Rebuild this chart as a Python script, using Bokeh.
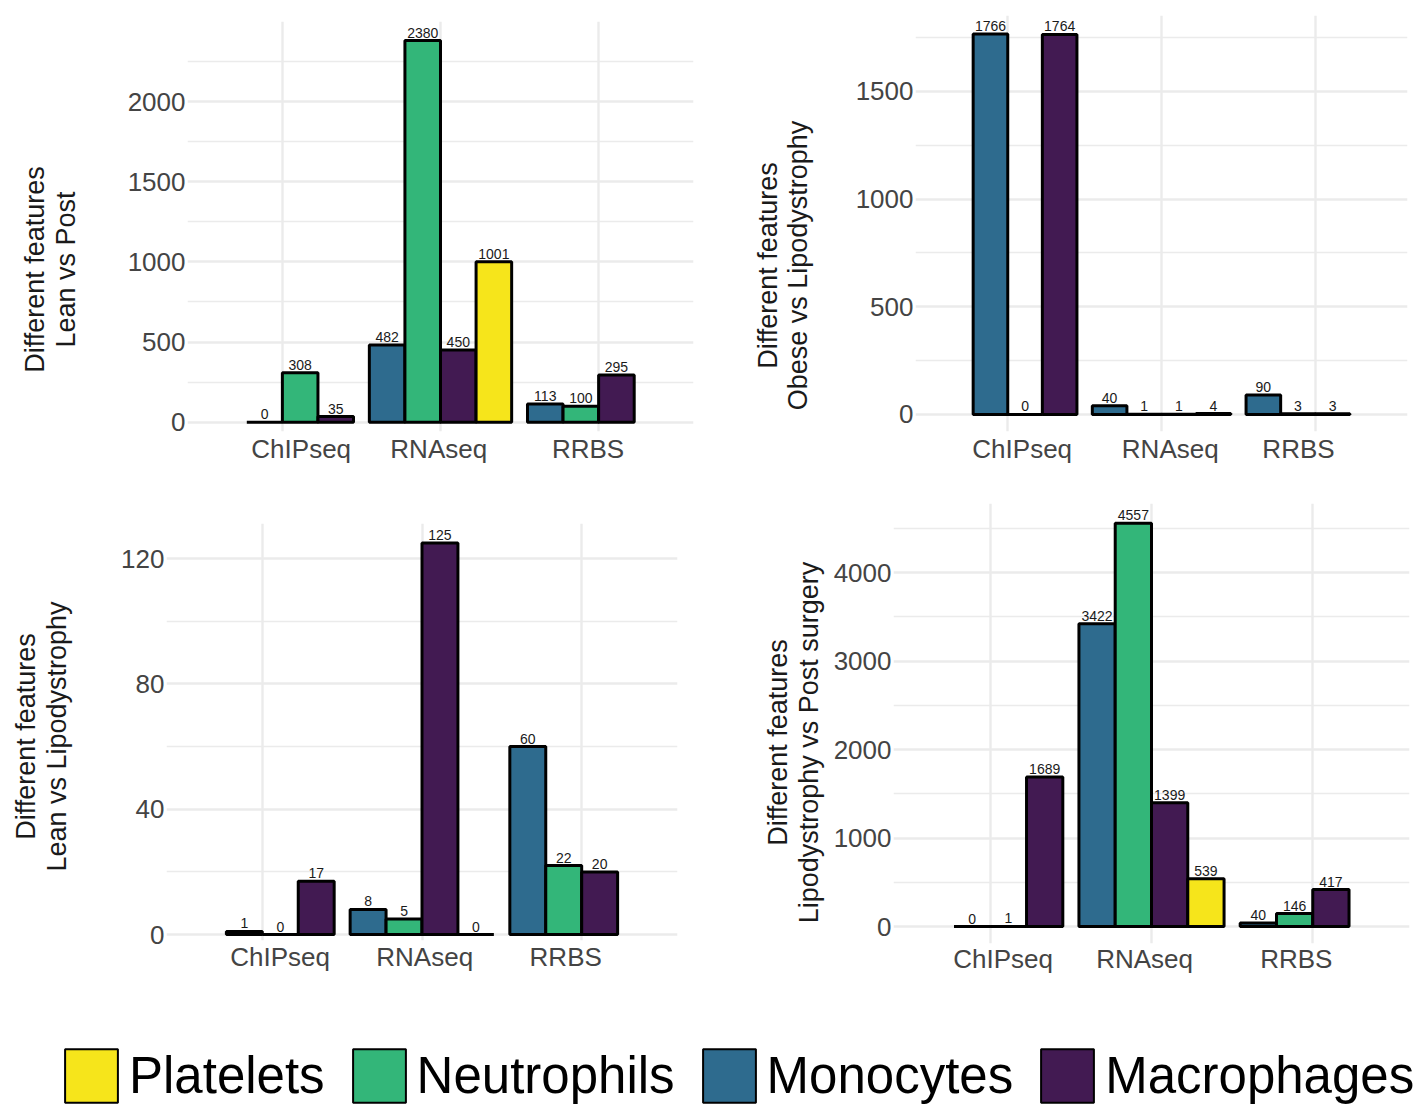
import numpy as np
from bokeh.plotting import figure
from bokeh.models import Range1d, FixedTicker, ColumnDataSource, CustomJSTickFormatter
from bokeh.layouts import column, row
from bokeh.embed import file_html
from bokeh.resources import INLINE
from bokeh.core.properties import value

# ---------------- data ----------------
assays = ["ChIPseq", "RNAseq", "RRBS"]
cell_types = ["Monocytes", "Neutrophils", "Macrophages", "Platelets"]
legend_order = ["Platelets", "Neutrophils", "Monocytes", "Macrophages"]

# Lean vs Post
lp_monocytes = [0, 482, 113]
lp_neutrophils = [308, 2380, 100]
lp_macrophages = [35, 450, 295]
lp_platelets = [None, 1001, None]

# Obese vs Lipodystrophy
ol_monocytes = [1766, 40, 90]
ol_neutrophils = [0, 1, 3]
ol_macrophages = [1764, 1, 3]
ol_platelets = [None, 4, None]

# Lean vs Lipodystrophy
ll_monocytes = [1, 8, 60]
ll_neutrophils = [0, 5, 22]
ll_macrophages = [17, 125, 20]
ll_platelets = [None, 0, None]

# Lipodystrophy vs Post surgery
lps_monocytes = [0, 3422, 40]
lps_neutrophils = [1, 4557, 146]
lps_macrophages = [1689, 1399, 417]
lps_platelets = [None, 539, None]

# ---------------- style ----------------
FONT = "Liberation Sans"
COLORS = {"Monocytes": "#2E6B8E", "Neutrophils": "#33B679",
          "Macrophages": "#421A52", "Platelets": "#F6E51B"}
GRID = "#EBEBEB"
TICK_COL = "#444444"
TITLE_COL = "#1A1A1A"
BAR_W = 0.225
FIRST_SLOT = [1, 0, 0]  # dodge slot of first bar in each assay group


def blank_fig(w, h):
    f = figure(width=w, height=h, x_range=Range1d(0, w), y_range=Range1d(0, h),
               title=None, output_backend="svg", toolbar_location=None,
               min_border=0, x_axis_location=None, y_axis_location=None,
               outline_line_color=None, background_fill_color="white",
               border_fill_color="white")
    f.grid.visible = False
    return f


def title_fig(w, h, lines, xs, ymid):
    """Narrow figure holding the two rotated y-axis title lines."""
    f = blank_fig(w, h)
    f.text(x=xs, y=[h - ymid] * len(lines), text=lines, angle=np.pi / 2,
           text_align="center", text_baseline="middle",
           text_font=value(FONT), text_font_size="27px", text_color=TITLE_COL)
    return f


def make_panel(series, yticks, yminor, yrange, fig_w, fig_h,
               borders, label_shift, label_standoff):
    left, right, top, bottom = borders
    p = figure(width=fig_w, height=fig_h, x_range=Range1d(0.4, 3.6),
               y_range=Range1d(*yrange), title=None, output_backend="svg",
               toolbar_location=None, min_border_left=left,
               min_border_right=right, min_border_top=top,
               min_border_bottom=bottom, outline_line_color=None,
               background_fill_color="white", border_fill_color="white")
    xs, tops, cols, labs = [], [], [], []
    for i, a in enumerate(assays):
        slot = FIRST_SLOT[i]
        for c in cell_types:
            v = series[c][i]
            if v is None:
                continue
            xs.append(i + 1 + (slot - 1.5) * BAR_W)
            tops.append(v)
            cols.append(COLORS[c])
            labs.append(str(v))
            slot += 1
    src = ColumnDataSource(dict(x=xs, top=tops, color=cols, label=labs))
    p.vbar(x="x", top="top", bottom=0, width=BAR_W, fill_color="color",
           line_color="black", line_width=3, source=src)
    p.text(x="x", y="top", text="label", text_align="center",
           text_baseline="bottom", y_offset=-3, text_font_size="14px",
           text_font=value(FONT), text_color=TITLE_COL, source=src)

    p.xaxis.ticker = FixedTicker(ticks=[i + 1 + s for i, s in enumerate(label_shift)])
    p.xaxis.formatter = CustomJSTickFormatter(args=dict(names=assays),
                                              code="return names[index];")
    p.yaxis.ticker = FixedTicker(ticks=yticks, minor_ticks=yminor)
    for ax in (p.xaxis[0], p.yaxis[0]):
        ax.axis_line_color = None
        ax.major_tick_line_color = None
        ax.minor_tick_line_color = None
        ax.major_tick_out = 0
        ax.major_tick_in = 0
        ax.minor_tick_out = 0
        ax.minor_tick_in = 0
        ax.major_label_text_font = FONT
        ax.major_label_text_font_size = "26px"
        ax.major_label_text_color = TICK_COL
    p.yaxis.major_label_standoff = 2
    p.xaxis.major_label_standoff = label_standoff

    p.xgrid.ticker = FixedTicker(ticks=[1, 2, 3])
    p.xgrid.grid_line_color = GRID
    p.xgrid.grid_line_width = 2.4
    p.ygrid.grid_line_color = GRID
    p.ygrid.grid_line_width = 2.4
    p.ygrid.minor_grid_line_color = GRID
    p.ygrid.minor_grid_line_width = 1.3
    return p


def series_of(mo, ne, ma, pl):
    return {"Monocytes": mo, "Neutrophils": ne, "Macrophages": ma, "Platelets": pl}


ROW1_H, ROW2_H = 488, 500

t1 = title_fig(100, ROW1_H, ["Different features", "Lean vs Post"], [34, 65], 269)
p1 = make_panel(series_of(lp_monocytes, lp_neutrophils, lp_macrophages, lp_platelets),
                [0, 500, 1000, 1500, 2000], [250, 750, 1250, 1750, 2250],
                (-58, 2499), 612, ROW1_H, (87, 19, 21, 57),
                [0.119, -0.011, -0.067], 2)
t2 = title_fig(128, ROW1_H, ["Different features", "Obese vs Lipodystrophy"],
               [767 - 712, 797 - 712], 265)
p2 = make_panel(series_of(ol_monocytes, ol_neutrophils, ol_macrophages, ol_platelets),
                [0, 500, 1000, 1500], [250, 750, 1250, 1750],
                (-79, 1852), 575, ROW1_H, (75, 8, 15, 57),
                [0.094, 0.057, -0.109], 2)
t3 = title_fig(100, ROW2_H, ["Different features", "Lean vs Lipodystrophy"],
               [25, 56], 736 - ROW1_H)
p3 = make_panel(series_of(ll_monocytes, ll_neutrophils, ll_macrophages, ll_platelets),
                [0, 40, 80, 120], [20, 60, 100],
                (-1.9, 131.2), 612, ROW2_H, (66, 35, 35, 48),
                [0.111, 0.017, -0.100], 1)
t4 = title_fig(113, ROW2_H, ["Different features", "Lipodystrophy vs Post surgery"],
               [777 - 712, 808 - 712], 742 - ROW1_H)
p4 = make_panel(series_of(lps_monocytes, lps_neutrophils, lps_macrophages, lps_platelets),
                [0, 1000, 2000, 3000, 4000], [500, 1500, 2500, 3500, 4500],
                (-192, 4780), 590, ROW2_H, (68, 6, 15, 45),
                [0.080, -0.043, -0.102], 0)

# ---------------- legend ----------------
LEG_H = 118
leg = figure(width=1415, height=LEG_H, x_range=Range1d(0, 1), y_range=Range1d(0, 1),
             title=None, output_backend="svg", toolbar_location=None, min_border=0,
             x_axis_location=None, y_axis_location=None, outline_line_color=None,
             background_fill_color="white", border_fill_color="white")
leg.grid.visible = False
for name in legend_order:
    # hidden renderer: only its legend key is shown
    r = leg.vbar(x=[0.5], top=[1], width=0.1, fill_color=COLORS[name],
                 line_color="black", line_width=2, legend_label=name)
    r.visible = False
lg = leg.legend[0]
lg.orientation = "horizontal"
lg.location = (58, -3)
lg.glyph_width = 66
lg.glyph_height = 67
lg.label_standoff = 5
lg.spacing = 21
lg.padding = 0
lg.margin = 0
lg.border_line_color = None
lg.background_fill_alpha = 0
lg.inactive_fill_alpha = 0
lg.label_text_font = FONT
lg.label_text_font_size = "51px"
lg.label_text_color = "black"

# each figure wrapped on its own so that the row does not align plot borders
layout = column(row(column(t1), column(p1), column(t2), column(p2)),
                row(column(t3), column(p3), column(t4), column(p4)),
                leg)
open("out.html", "w").write(file_html(layout, INLINE))
